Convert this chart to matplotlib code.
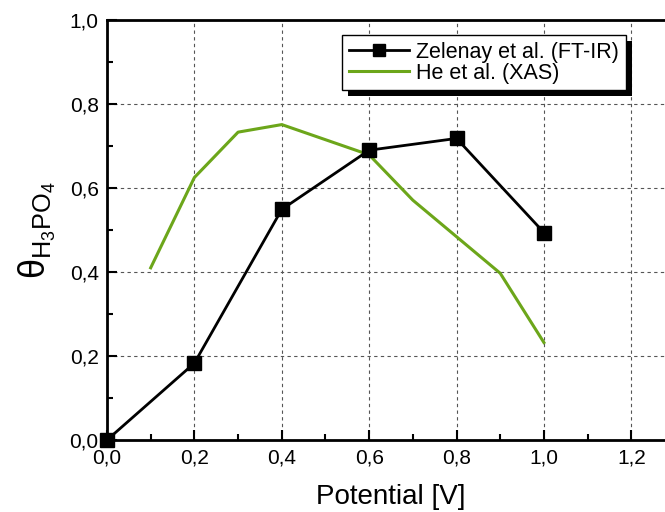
import matplotlib.pyplot as plt
from matplotlib.patches import Rectangle
from matplotlib.ticker import MultipleLocator, FuncFormatter

# Zelenay et al. (FT-IR)
zel_x = [0.0, 0.2, 0.4, 0.6, 0.8, 1.0]
zel_y = [0.0, 0.183, 0.549, 0.690, 0.718, 0.494]

# He et al. (XAS)
he_x = [0.1, 0.2, 0.3, 0.4, 0.6, 0.7, 0.8, 0.9, 1.0]
he_y = [0.41, 0.625, 0.733, 0.751, 0.679, 0.571, 0.484, 0.397, 0.232]

plt.rcParams['font.family'] = ['Liberation Sans', 'DejaVu Sans']

fig = plt.figure(figsize=(6.65, 5.12), dpi=100)
ax = fig.add_axes([107 / 665, 72 / 512, 568 / 665, 420 / 512])

ax.plot(zel_x, zel_y, color='black', lw=2, marker='s', ms=9.5,
        label='Zelenay et al. (FT-IR)', clip_on=False, zorder=4)
ax.plot(he_x, he_y, color='#6ca61a', lw=2.2, label='He et al. (XAS)', zorder=3)

ax.set_xlim(0, 1.3)
ax.set_ylim(0, 1.0)
ax.xaxis.set_major_locator(MultipleLocator(0.2))
ax.xaxis.set_minor_locator(MultipleLocator(0.1))
ax.yaxis.set_major_locator(MultipleLocator(0.2))
ax.yaxis.set_minor_locator(MultipleLocator(0.1))
comma = FuncFormatter(lambda v, p: f'{v:.1f}'.replace('.', ','))
ax.xaxis.set_major_formatter(comma)
ax.yaxis.set_major_formatter(comma)

ax.tick_params(which='both', direction='in', top=False, right=False,
               labelsize=15, width=1.5, pad=6)
ax.tick_params(which='major', length=7)
ax.tick_params(which='minor', length=4)
for s in ax.spines.values():
    s.set_linewidth(2)

ax.grid(True, which='major', ls=(0, (3, 3)), color='#555555', lw=0.8)

ax.set_xlabel('Potential [V]', fontsize=20, labelpad=12)
ax.set_ylabel(r'$\mathregular{\theta_{H_3PO_4}}$', fontsize=26, labelpad=8)

leg = ax.legend(loc='upper left', bbox_to_anchor=(0.414, 0.964), borderaxespad=0,
                fontsize=15.5, frameon=True, fancybox=False, framealpha=1,
                edgecolor='black', handlelength=2.8, handletextpad=0.35,
                borderpad=0.3, labelspacing=0.0, markerscale=0.85)
leg.get_frame().set_linewidth(1)
leg.set_zorder(10)

# solid black drop shadow behind the legend box
fig.canvas.draw()
bb = leg.get_window_extent().transformed(fig.transFigure.inverted())
ax.add_artist(Rectangle((bb.x0 + 6 / 665, bb.y0 - 6 / 512), bb.width, bb.height,
                        transform=fig.transFigure, facecolor='black',
                        edgecolor='none', zorder=9, clip_on=False))

fig.savefig('out.png', dpi=100)
